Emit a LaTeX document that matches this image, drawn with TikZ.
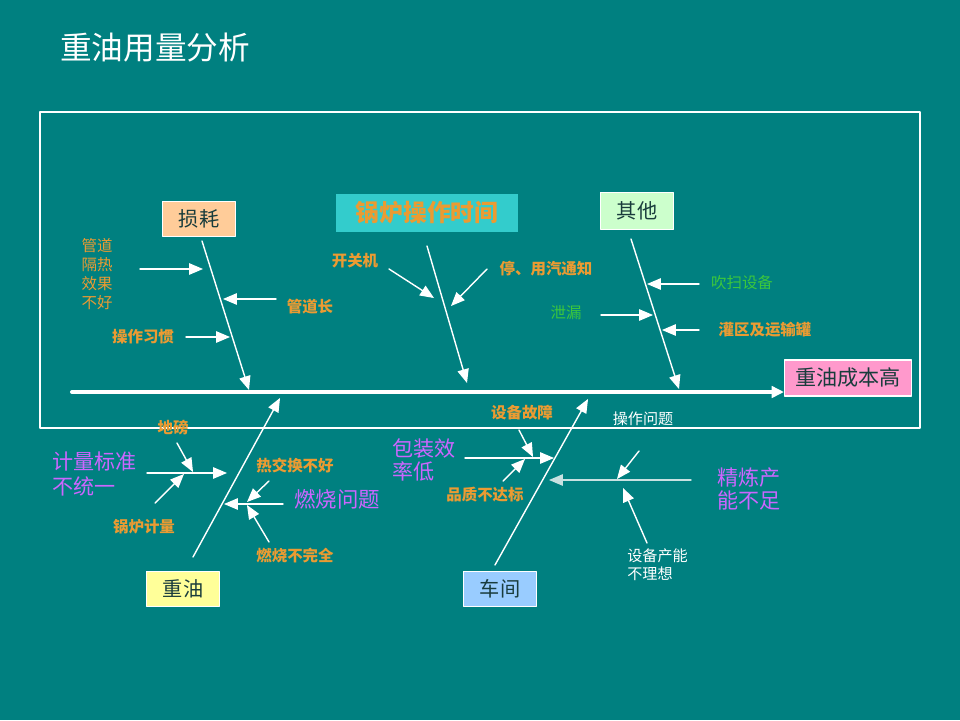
\documentclass[tikz,border=0pt]{standalone}
\usepackage{fontspec}
\setmainfont{Noto Sans CJK SC}
\usetikzlibrary{arrows,arrows.meta}

\definecolor{fondo}{RGB}{0,128,128}
\definecolor{tinta}{RGB}{25,60,60}
\definecolor{naranja}{RGB}{235,155,50}
\definecolor{verdeclaro}{RGB}{60,200,60}
\definecolor{lila}{RGB}{204,102,255}
\definecolor{gris}{RGB}{200,225,225}
\definecolor{melocoton}{RGB}{255,204,153}
\definecolor{cian}{RGB}{51,204,204}
\definecolor{menta}{RGB}{204,255,204}
\definecolor{rosa}{RGB}{255,153,204}
\definecolor{amarillo}{RGB}{255,255,153}
\definecolor{celeste}{RGB}{153,204,255}

\tikzset{
  caja/.style={draw=white,line width=0.6pt,text=tinta,inner sep=0pt,
    minimum width=1.45cm,minimum height=0.7cm,font=\fontsize{11.5}{13}\selectfont},
  causa/.style={text=naranja,inner sep=0pt,font=\bfseries\fontsize{8.8}{10.8}\selectfont},
  verde/.style={text=verdeclaro,inner sep=0pt,font=\fontsize{8.8}{10.8}\selectfont},
  grupo/.style={text=lila,inner sep=0pt,align=left,anchor=west},
  nota/.style={text=white,inner sep=0pt,align=left,font=\fontsize{8.6}{10.2}\selectfont},
  hueso/.style={->,white,line width=0.8pt},
  flecha/.style={->,white,line width=0.8pt},
}

\begin{document}
\begin{tikzpicture}[line cap=round,line join=round,>=triangle 45,x=0.02cm,y=-0.02cm]
		\fill[fondo] (0,0) rectangle (960,720);
		\node[text=white,font=\fontsize{18}{20}\selectfont] (titulo) at (155,48) {重油用量分析};
		\draw[white,line width=1.1pt] (40,112) rectangle (920,428);

		%%%%%%%%%%%%%%%%%%%%% C A B E Z A %%%%%%%%%%%%%%%%%%%%%
		\node[caja,fill=rosa,minimum width=2.54cm,minimum height=0.72cm,font=\fontsize{12}{14}\selectfont] (cabeza) at (848,378) {重油成本高};
		\coordinate (cola) at (72,392);
		\coordinate (punta) at (784,392);
		\draw[-{Triangle[length=7pt,width=6.5pt]},white,line width=2.3pt] (cola) -- (punta);

		%%%% CATEGORIAS ARRIBA
		\node[caja,fill=melocoton] (sunhao) at (199,219) {损耗};
		\node[fill=cian,minimum width=3.64cm,minimum height=0.76cm,inner sep=0pt,text=naranja,
			font=\bfseries\fontsize{13.5}{15}\selectfont] (guolu) at (427,213) {锅炉操作时间};
		\node[caja,fill=menta,minimum height=0.74cm] (qita) at (637,211) {其他};

		%%%% CATEGORIAS ABAJO
		\node[caja,fill=amarillo] (zhongyou) at (183,589) {重油};
		\node[caja,fill=celeste] (chejian) at (500,589) {车间};

		%%%% ESPINAS
		\coordinate (s1) at (202,241); \coordinate (s2) at (249,390);
		\coordinate (g1) at (427,246); \coordinate (g2) at (467,383);
		\coordinate (q1) at (631,239); \coordinate (q2) at (679,389);
		\coordinate (z1) at (193,557); \coordinate (z2) at (280,398);
		\coordinate (c1) at (495,565); \coordinate (c2) at (588,399);
		\draw[hueso] (s1) -- (s2);
		\draw[hueso] (g1) -- (g2);
		\draw[hueso] (q1) -- (q2);
		\draw[hueso] (z1) -- (z2);
		\draw[hueso] (c1) -- (c2);

		%%%% CAUSAS: SUNHAO
		\node[causa,align=center,font=\fontsize{8.8}{10.8}\selectfont] (a) at (97,274) {管道\\隔热\\效果\\不好};
		\node[causa] (b) at (310,307) {管道长};
		\node[causa] (c) at (143,337) {操作习惯};
		\coordinate (a1) at (140,269); \coordinate (a2) at (203,269);
		\coordinate (b1) at (276,299); \coordinate (b2) at (223,299);
		\coordinate (c1x) at (186,337); \coordinate (c2x) at (230,337);
		\draw[flecha] (a1) -- (a2);
		\draw[flecha] (b1) -- (b2);
		\draw[flecha] (c1x) -- (c2x);

		%%%% CAUSAS: GUOLU
		\node[causa] (d) at (355,261) {开关机};
		\node[causa] (e) at (546,269) {停、用汽通知};
		\coordinate (d1) at (389,269); \coordinate (d2) at (434,298);
		\coordinate (e1) at (487,269); \coordinate (e2) at (451,306);
		\draw[flecha] (d1) -- (d2);
		\draw[flecha] (e1) -- (e2);

		%%%% CAUSAS: QITA
		\node[verde] (f) at (742,283) {吹扫设备};
		\node[verde] (g) at (566,313) {泄漏};
		\node[causa] (h) at (765,330) {灌区及运输罐};
		\coordinate (f1) at (699,284); \coordinate (f2) at (647,284);
		\coordinate (g1x) at (601,315); \coordinate (g2x) at (653,315);
		\coordinate (h1) at (699,330); \coordinate (h2) at (662,330);
		\draw[flecha] (f1) -- (f2);
		\draw[flecha] (g1x) -- (g2x);
		\draw[flecha] (h1) -- (h2);

		%%%% CAUSAS: ZHONGYOU
		\node[grupo,font=\fontsize{12}{14.7}\selectfont] (i) at (52,474) {计量标准\\不统一};
		\node[causa] (j) at (173,428) {地磅};
		\node[causa] (k) at (144,527) {锅炉计量};
		\node[grupo,anchor=center,font=\fontsize{12.2}{14}\selectfont] (l) at (337,499) {燃烧问题};
		\node[causa] (m) at (295,466) {热交换不好};
		\node[causa] (n) at (295,556) {燃烧不完全};
		\coordinate (i1) at (147,473); \coordinate (i2) at (227,473);
		\coordinate (j1) at (177,443); \coordinate (j2) at (193,472);
		\coordinate (k1) at (155,503); \coordinate (k2) at (184,474);
		\coordinate (l1) at (283,504); \coordinate (l2) at (224,504);
		\coordinate (m1) at (269,481); \coordinate (m2) at (247,502);
		\coordinate (n1) at (269,542); \coordinate (n2) at (247,505);
		\draw[flecha] (i1) -- (i2);
		\draw[flecha] (j1) -- (j2);
		\draw[flecha] (k1) -- (k2);
		\draw[flecha] (l1) -- (l2);
		\draw[flecha] (m1) -- (m2);
		\draw[flecha] (n1) -- (n2);

		%%%% CAUSAS: CHEJIAN
		\node[grupo,font=\fontsize{12}{13.6}\selectfont] (o) at (392,460) {包装效\\率低};
		\node[causa] (p) at (522,413) {设备故障};
		\node[causa] (q) at (485,495) {品质不达标};
		\coordinate (o1) at (465,458); \coordinate (o2) at (554,458);
		\coordinate (p1) at (519,430); \coordinate (p2) at (533,457);
		\coordinate (q1x) at (503,481); \coordinate (q2x) at (525,459);
		\draw[flecha] (o1) -- (o2);
		\draw[flecha] (p1) -- (p2);
		\draw[flecha] (q1x) -- (q2x);

		\node[grupo,font=\fontsize{12}{13.2}\selectfont] (r) at (717,489) {精炼产\\能不足};
		\node[nota] (s) at (643,419) {操作问题};
		\node[nota,anchor=west] (t) at (627,565) {设备产能\\不理想};
		\coordinate (r1) at (691,480); \coordinate (r2) at (549,480);
		\coordinate (s1x) at (639,451); \coordinate (s2x) at (617,479);
		\coordinate (t1) at (647,543); \coordinate (t2) at (623,488);
		\draw[->,gris,line width=0.8pt] (r1) -- (r2);
		\draw[flecha] (s1x) -- (s2x);
		\draw[flecha] (t1) -- (t2);
	\end{tikzpicture}
\end{document}
